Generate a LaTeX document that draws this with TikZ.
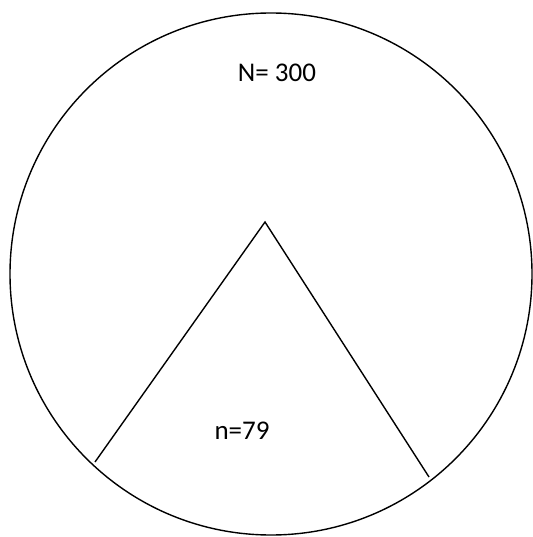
\documentclass[tikz,border=0pt]{standalone}
\usepackage{fontspec}
\setmainfont{Carlito}
\usetikzlibrary{positioning}
\tikzset{
  outline/.style ={draw=black, line width=1.4pt},
  wedge/.style   ={draw=black, line width=1.4pt},
  lbl/.style     ={font=\fontsize{27}{32}\selectfont, inner sep=0pt}
}
\begin{document}
\begin{tikzpicture}[x=1pt, y=-1pt]
\useasboundingbox (0,0) rectangle (532,537);
\draw[outline] (271,274) circle[radius=261];
\coordinate (apex)  at (265,222);
\coordinate (left)  at (95,462);
\coordinate (right) at (429,477);
\draw[wedge] (left) -- (apex) -- (right);
\node[lbl] (pop)    at (277,73)  {N= 300};
\node[lbl] (sample) at (242,431) {n=79};
\end{tikzpicture}
\end{document}
